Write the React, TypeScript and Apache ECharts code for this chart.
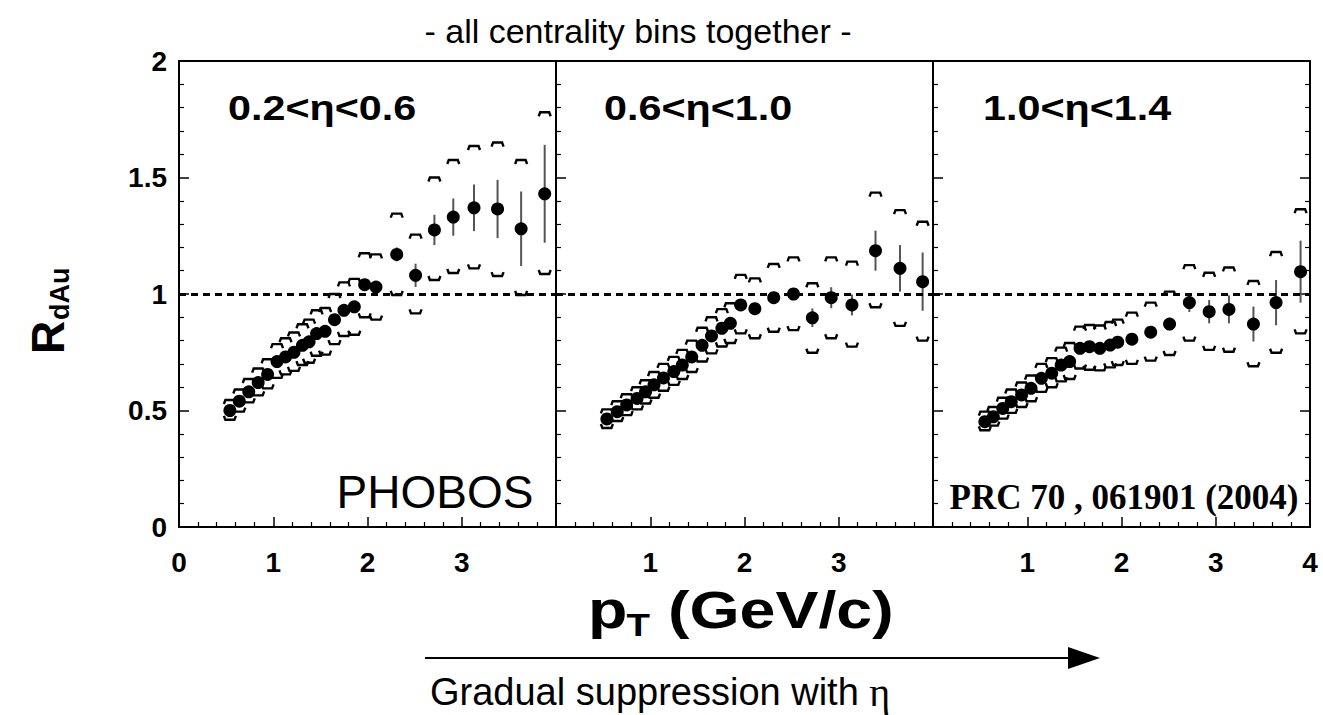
import React, { useEffect, useRef } from 'react';
import * as echarts from 'echarts';

const SANS = '"Liberation Sans", Arial, Helvetica, sans-serif';
const SERIF = '"Liberation Serif", "Times New Roman", serif';

// ---- Panel 1 : 0.2 < eta < 0.6 ----
const p1X = [0.54, 0.64, 0.74, 0.84, 0.94, 1.04, 1.13, 1.22, 1.31, 1.38, 1.46, 1.55, 1.65, 1.75, 1.86, 1.97, 2.09, 2.31, 2.51, 2.71, 2.91, 3.13, 3.38, 3.63, 3.88];
const p1Y = [0.5, 0.54, 0.58, 0.62, 0.655, 0.71, 0.73, 0.75, 0.78, 0.795, 0.83, 0.84, 0.89, 0.93, 0.945, 1.04, 1.03, 1.17, 1.08, 1.275, 1.33, 1.37, 1.365, 1.28, 1.43];
const p1Stat = [0.01, 0.01, 0.01, 0.01, 0.01, 0.01, 0.01, 0.01, 0.01, 0.01, 0.01, 0.01, 0.01, 0.01, 0.015, 0.015, 0.015, 0.03, 0.05, 0.065, 0.08, 0.1, 0.125, 0.16, 0.21];
const p1SysHi = [0.545, 0.59, 0.635, 0.68, 0.72, 0.785, 0.81, 0.835, 0.87, 0.89, 0.93, 0.94, 1.0, 1.05, 1.065, 1.175, 1.17, 1.345, 1.255, 1.5, 1.575, 1.635, 1.65, 1.575, 1.78];
const p1SysLo = [0.46, 0.495, 0.535, 0.565, 0.595, 0.64, 0.655, 0.67, 0.695, 0.705, 0.735, 0.74, 0.785, 0.82, 0.825, 0.9, 0.89, 0.996, 0.917, 1.06, 1.09, 1.11, 1.077, 0.996, 1.086];

// ---- Panel 2 : 0.6 < eta < 1.0 ----
const p2X = [0.54, 0.65, 0.75, 0.86, 0.95, 1.04, 1.14, 1.25, 1.34, 1.44, 1.55, 1.65, 1.76, 1.85, 1.96, 2.11, 2.31, 2.52, 2.72, 2.92, 3.14, 3.39, 3.65, 3.89];
const p2Y = [0.464, 0.495, 0.524, 0.552, 0.58, 0.61, 0.64, 0.667, 0.695, 0.73, 0.78, 0.82, 0.853, 0.874, 0.953, 0.937, 0.984, 1.0, 0.898, 0.984, 0.953, 1.186, 1.11, 1.053];
const p2Stat = [0.01, 0.01, 0.01, 0.01, 0.01, 0.01, 0.01, 0.01, 0.01, 0.01, 0.01, 0.01, 0.01, 0.01, 0.015, 0.015, 0.015, 0.015, 0.04, 0.045, 0.045, 0.086, 0.1, 0.125];
const p2SysHi = [0.505, 0.54, 0.57, 0.6, 0.63, 0.665, 0.7, 0.73, 0.76, 0.8, 0.855, 0.9, 0.935, 0.96, 1.082, 1.067, 1.129, 1.157, 1.046, 1.157, 1.139, 1.435, 1.36, 1.31];
const p2SysLo = [0.425, 0.455, 0.48, 0.505, 0.53, 0.555, 0.585, 0.61, 0.635, 0.665, 0.71, 0.745, 0.775, 0.79, 0.831, 0.81, 0.838, 0.845, 0.748, 0.81, 0.774, 0.943, 0.863, 0.8];

// ---- Panel 3 : 1.0 < eta < 1.4 ----
const p3X = [0.55, 0.64, 0.74, 0.83, 0.94, 1.04, 1.15, 1.26, 1.36, 1.45, 1.56, 1.66, 1.77, 1.88, 1.96, 2.11, 2.31, 2.51, 2.72, 2.93, 3.14, 3.4, 3.64, 3.9];
const p3Y = [0.452, 0.473, 0.509, 0.538, 0.567, 0.595, 0.638, 0.66, 0.695, 0.71, 0.767, 0.774, 0.767, 0.781, 0.793, 0.806, 0.836, 0.871, 0.963, 0.924, 0.934, 0.871, 0.963, 1.096];
const p3Stat = [0.01, 0.01, 0.01, 0.01, 0.01, 0.01, 0.01, 0.01, 0.01, 0.01, 0.01, 0.01, 0.01, 0.01, 0.01, 0.01, 0.012, 0.015, 0.04, 0.05, 0.06, 0.075, 0.097, 0.133];
const p3SysHi = [0.495, 0.515, 0.555, 0.59, 0.62, 0.65, 0.7, 0.725, 0.77, 0.79, 0.86, 0.867, 0.865, 0.88, 0.89, 0.92, 0.963, 1.01, 1.124, 1.091, 1.114, 1.056, 1.18, 1.364];
const p3SysLo = [0.415, 0.435, 0.465, 0.49, 0.515, 0.54, 0.58, 0.6, 0.625, 0.635, 0.68, 0.675, 0.672, 0.685, 0.695, 0.7, 0.714, 0.738, 0.8, 0.76, 0.752, 0.69, 0.748, 0.831];

// ---- Labels ----
const panelLabels = ['0.2<η<0.6', '0.6<η<1.0', '1.0<η<1.4'];
const p1TickLabels = ['0', '1', '2', '3', ''];
const p2TickLabels = ['', '1', '2', '3', ''];
const p3TickLabels = ['', '1', '2', '3', '4'];
const yTickLabels = ['0', '0.5', '1', '1.5', '2'];
const titleText = '- all centrality bins together -';
const footText = 'Gradual suppression with ';
const experimentText = 'PHOBOS';
const referenceText = 'PRC 70 , 061901 (2004)';

const panels = [
  { x: p1X, y: p1Y, stat: p1Stat, hi: p1SysHi, lo: p1SysLo, ticks: p1TickLabels, label: panelLabels[0] },
  { x: p2X, y: p2Y, stat: p2Stat, hi: p2SysHi, lo: p2SysLo, ticks: p2TickLabels, label: panelLabels[1] },
  { x: p3X, y: p3Y, stat: p3Stat, hi: p3SysHi, lo: p3SysLo, ticks: p3TickLabels, label: panelLabels[2] },
];

const GRID_LEFT = [179, 556, 933];
const GRID_W = 377;
const GRID_TOP = 61;
const GRID_H = 466;

export default function App() {
  const ref = useRef<HTMLDivElement>(null);
  useEffect(() => {
    const chart = echarts.init(ref.current!, null, { renderer: 'svg' });
    const grid = GRID_LEFT.map((l) => ({ left: l, top: GRID_TOP, width: GRID_W, height: GRID_H, containLabel: false }));
    const xAxis: any[] = [];
    const yAxis: any[] = [];
    const series: any[] = [];
    const axisLine = { show: true, onZero: false, lineStyle: { color: '#000', width: 2 } };
    panels.forEach((p, i) => {
      xAxis.push({
        gridIndex: i, type: 'value', min: 0, max: 4, interval: 1, position: 'bottom',
        axisLine,
        axisTick: { show: true, inside: true, length: 10, lineStyle: { color: '#000', width: 1.5 } },
        minorTick: { show: true, splitNumber: 5, length: 5, lineStyle: { color: '#000', width: 1.2 } },
        splitLine: { show: false }, minorSplitLine: { show: false },
        axisLabel: {
          show: true, margin: 21, color: '#000', fontSize: 28, fontWeight: 'bold', fontFamily: SANS,
          showMinLabel: true, showMaxLabel: true,
          formatter: (v: number) => p.ticks[Math.round(v)] ?? '',
        },
      });
      xAxis.push({
        gridIndex: i, type: 'value', min: 0, max: 4, position: 'top',
        axisLine, axisTick: { show: false }, axisLabel: { show: false }, splitLine: { show: false },
      });
      yAxis.push({
        gridIndex: i, type: 'value', min: 0, max: 2, interval: 0.5, position: 'left',
        axisLine,
        axisTick: { show: true, inside: true, length: 10, lineStyle: { color: '#000', width: 1.5 } },
        minorTick: { show: true, splitNumber: 5, length: 5, lineStyle: { color: '#000', width: 1.2 } },
        splitLine: { show: false }, minorSplitLine: { show: false },
        axisLabel: {
          show: i === 0, margin: 12, color: '#000', fontSize: 28, fontWeight: 'bold', fontFamily: SANS,
          showMinLabel: true, showMaxLabel: true,
          formatter: (v: number) => yTickLabels[Math.round(v * 2)] ?? '',
        },
      });
    });
    yAxis.push({
      gridIndex: 2, type: 'value', min: 0, max: 2, interval: 0.5, position: 'right',
      axisLine,
      axisTick: { show: true, inside: true, length: 10, lineStyle: { color: '#000', width: 1.5 } },
      minorTick: { show: true, splitNumber: 5, length: 5, lineStyle: { color: '#000', width: 1.2 } },
      splitLine: { show: false }, axisLabel: { show: false },
    });

    panels.forEach((p, i) => {
      const rows = p.x.map((xv, k) => [xv, p.y[k], p.stat[k], p.hi[k], p.lo[k]]);
      series.push({
        type: 'custom', xAxisIndex: 2 * i, yAxisIndex: i, z: 2, silent: true,
        encode: { x: 0, y: 1 },
        data: rows,
        renderItem: (_params: any, api: any) => {
          const xv = api.value(0), yv = api.value(1), st = api.value(2), hi = api.value(3), lo = api.value(4);
          const c = api.coord([xv, yv]);
          const t = api.coord([xv, yv + st]);
          const b = api.coord([xv, yv - st]);
          const ph = api.coord([xv, hi]);
          const pl = api.coord([xv, lo]);
          const w = 6, leg = 4;
          const bs = { stroke: '#000', lineWidth: 2.4, fill: 'none' };
          return {
            type: 'group',
            children: [
              { type: 'line', shape: { x1: c[0], y1: t[1], x2: c[0], y2: b[1] }, style: { stroke: '#555', lineWidth: 2 } },
              { type: 'polyline', shape: { points: [[c[0] - w, ph[1] + leg], [c[0] - w + 1.5, ph[1]], [c[0] + w - 1.5, ph[1]], [c[0] + w, ph[1] + leg]] }, style: bs },
              { type: 'polyline', shape: { points: [[c[0] - w, pl[1] - leg], [c[0] - w + 1.5, pl[1]], [c[0] + w - 1.5, pl[1]], [c[0] + w, pl[1] - leg]] }, style: bs },
            ],
          };
        },
      });
      series.push({
        type: 'scatter', xAxisIndex: 2 * i, yAxisIndex: i, z: 3, silent: true,
        symbol: 'circle', symbolSize: 13,
        itemStyle: { color: '#000', opacity: 1 },
        data: p.x.map((xv, k) => [xv, p.y[k]]),
        markLine: {
          silent: true, symbol: ['none', 'none'], label: { show: false },
          lineStyle: { type: [7, 5], width: 3, color: '#000', opacity: 1 },
          data: [{ yAxis: 1 }],
        },
      });
    });

    const graphic: any[] = [
      {
        type: 'text', x: 638, y: 31,
        style: { text: titleText, fontSize: 34, fontFamily: SANS, fill: '#000', align: 'center', verticalAlign: 'middle', textAlign: 'center', textVerticalAlign: 'middle' },
      },
      ...panels.map((p, i) => ({
        type: 'text', x: [228, 604, 983][i], y: 108, scaleX: 1.18,
        style: { text: p.label, fontSize: 35, fontWeight: 'bold', fontFamily: SANS, fill: '#000', align: 'left', verticalAlign: 'middle', textAlign: 'left', textVerticalAlign: 'middle' },
      })),
      {
        type: 'text', x: 435, y: 492,
        style: { text: experimentText, fontSize: 46, fontFamily: SANS, fill: '#000', align: 'center', verticalAlign: 'middle', textAlign: 'center', textVerticalAlign: 'middle' },
      },
      {
        type: 'text', x: 1124, y: 497,
        style: { text: referenceText, fontSize: 35, fontWeight: 'bold', fontFamily: SERIF, fill: '#000', align: 'center', verticalAlign: 'middle', textAlign: 'center', textVerticalAlign: 'middle' },
      },
      {
        type: 'group', x: 48, y: 354, rotation: Math.PI / 2,
        children: [
          { type: 'text', x: 0, y: 0, style: { text: 'R', fontSize: 46, fontWeight: 'bold', fontFamily: SANS, fill: '#000', align: 'left', verticalAlign: 'middle', textAlign: 'left', textVerticalAlign: 'middle' } },
          { type: 'text', x: 34, y: 12, style: { text: 'dAu', fontSize: 27, fontWeight: 'bold', fontFamily: SANS, fill: '#000', align: 'left', verticalAlign: 'middle', textAlign: 'left', textVerticalAlign: 'middle' } },
        ],
      },
      {
        type: 'group', x: 588, y: 610, scaleX: 1.24,
        children: [
          { type: 'text', x: 0, y: 0, style: { text: 'p', fontSize: 52, fontWeight: 'bold', fontFamily: SANS, fill: '#000', align: 'left', verticalAlign: 'middle', textAlign: 'left', textVerticalAlign: 'middle' } },
          { type: 'text', x: 31, y: 15, style: { text: 'T', fontSize: 31, fontWeight: 'bold', fontFamily: SANS, fill: '#000', align: 'left', verticalAlign: 'middle', textAlign: 'left', textVerticalAlign: 'middle' } },
          { type: 'text', x: 50, y: 0, style: { text: ' (GeV/c)', fontSize: 52, fontWeight: 'bold', fontFamily: SANS, fill: '#000', align: 'left', verticalAlign: 'middle', textAlign: 'left', textVerticalAlign: 'middle' } },
        ],
      },
      { type: 'line', shape: { x1: 425, y1: 658, x2: 1072, y2: 658 }, style: { stroke: '#000', lineWidth: 2 } },
      { type: 'polygon', shape: { points: [[1068, 647], [1100, 658], [1068, 669]] }, style: { fill: '#000' } },
      {
        type: 'text', x: 430, y: 692,
        style: {
          text: footText + '{e|η}', fontSize: 38, fontFamily: SANS, fill: '#000', align: 'left', verticalAlign: 'middle', textAlign: 'left', textVerticalAlign: 'middle',
          rich: { e: { fontSize: 40, fontFamily: SERIF, fill: '#000' } },
        },
      },
    ];

    chart.setOption({
      animation: false,
      backgroundColor: '#fff',
      grid, xAxis, yAxis, series, graphic,
    });
    return () => chart.dispose();
  }, []);
  return <div ref={ref} style={{ position: 'absolute', left: 0, top: 0, width: 1323, height: 715 }} />;
}
